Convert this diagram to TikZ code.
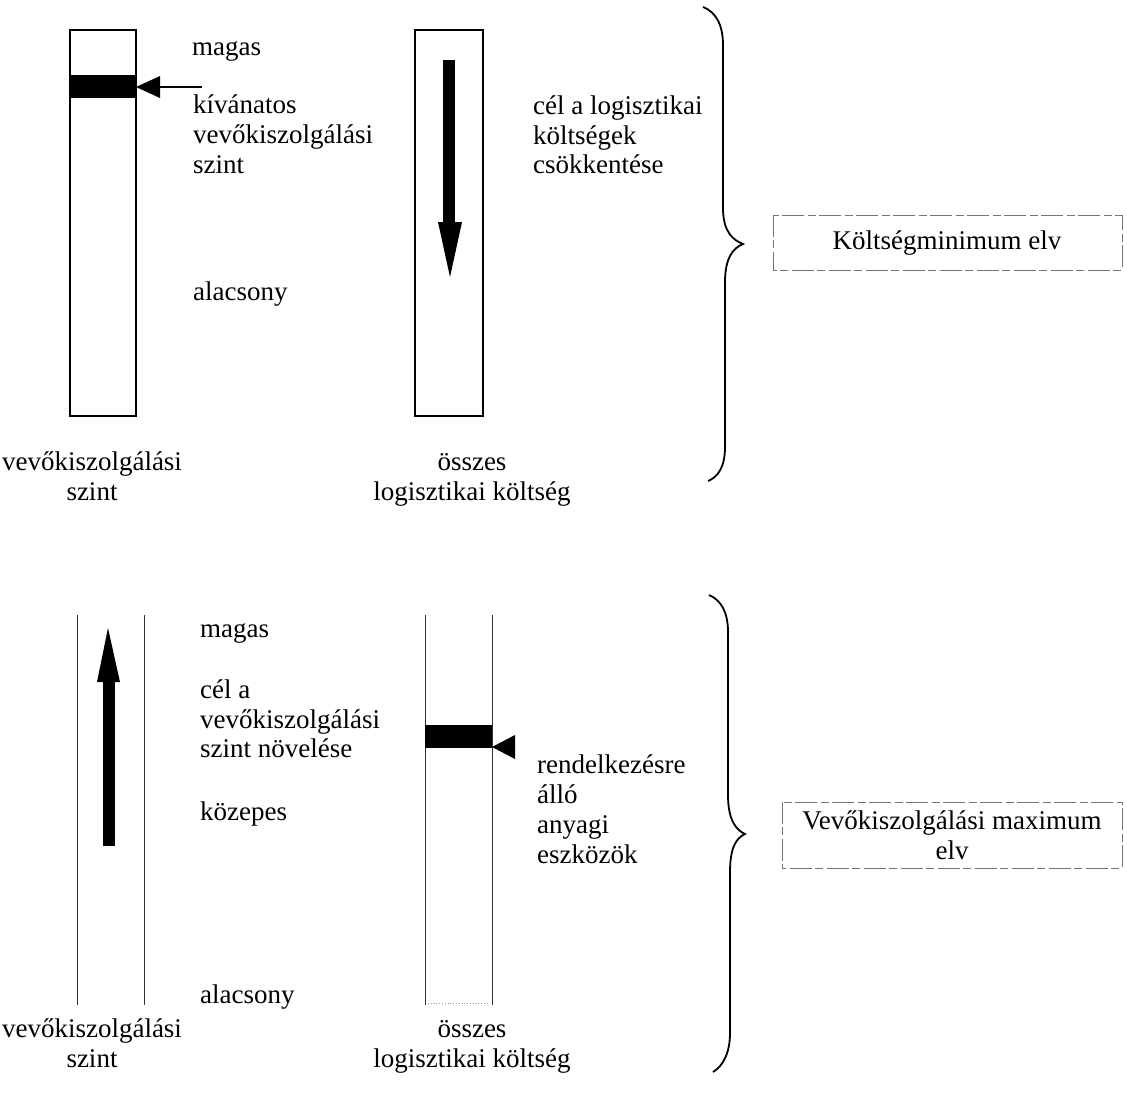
\documentclass[tikz,border=0pt]{standalone}
\usepackage{fontspec}
\setmainfont{Liberation Serif}
\begin{document}
\begin{tikzpicture}[x=1pt,y=-1pt,
  lbl/.style={anchor=base west,inner sep=0pt,font=\fontsize{27}{30}\selectfont},
  clbl/.style={anchor=base,inner sep=0pt,font=\fontsize{27}{30}\selectfont},
  col/.style={draw=black,line width=1.8pt},
  thincol/.style={draw=black!80,line width=1pt},
  band/.style={fill=black},
  brace/.style={draw=black,line width=1.8pt},
  dbox/.style={draw=black!55,line width=0.9pt,dash pattern=on 22pt off 3pt on 8pt off 4pt},
  btxt/.style={inner sep=0pt,font=\fontsize{27}{30}\selectfont,align=center}]
\useasboundingbox (0,0) rectangle (1127,1098);

% ---------- top section ----------
\draw[col] (70,30) rectangle (136,416);
\fill[band] (70,75) rectangle (136,98);
\coordinate (tA) at (202,87);
\coordinate (tB) at (160,87);
\draw[line width=1.6pt] (tA) -- (tB);
\fill (160,76) -- (136,87) -- (160,98) -- cycle;

\draw[col] (415,30) rectangle (483,416);
\fill (443,60) rectangle (455,222);
\fill (438,222) -- (462,222) -- (450,277) -- cycle;

\node[lbl] (t1) at (192,55) {magas};
\node[lbl] (t2) at (193,113) {kívánatos};
\node[lbl] (t3) at (193,143) {vevőkiszolgálási};
\node[lbl] (t4) at (193,173) {szint};
\node[lbl] (t5) at (193,300) {alacsony};
\node[lbl] (t6) at (533,114) {cél a logisztikai};
\node[lbl] (t7) at (533,144) {költségek};
\node[lbl] (t8) at (533,173) {csökkentése};
\node[clbl] (t9) at (92,470) {vevőkiszolgálási};
\node[clbl] (t10) at (92,500) {szint};
\node[clbl] (t11) at (472,470) {összes};
\node[clbl] (t12) at (472,500) {logisztikai költség};

\draw[brace] (703,7) .. controls (716,12) and (723,25) .. (723,45)
  -- (723,208) .. controls (723,232) and (733,240) .. (743,244)
  .. controls (733,248) and (725,258) .. (725,282)
  -- (725,447) .. controls (725,467) and (718,477) .. (708,481);

\draw[dbox] (773,215) rectangle (1122,270);
\node[btxt] (k1) at (947,243) {Költségminimum elv};

% ---------- bottom section ----------
\draw[thincol] (77,615) -- (77,1005);
\draw[thincol] (144,615) -- (144,1005);
\fill (103,682) rectangle (115,846);
\fill (97,682) -- (120,682) -- (108,628) -- cycle;

\draw[thincol] (425,615) -- (425,1005);
\draw[thincol] (492,615) -- (492,1005);
\draw[black!40,line width=0.8pt,dotted] (428,1003) -- (489,1003);
\fill[band] (425,725) rectangle (492,748);
\fill (515,735) -- (492,747) -- (515,759) -- cycle;

\node[lbl] (b1) at (200,637) {magas};
\node[lbl] (b2) at (200,698) {cél a};
\node[lbl] (b3) at (200,728) {vevőkiszolgálási};
\node[lbl] (b4) at (200,757) {szint növelése};
\node[lbl] (b5) at (200,820) {közepes};
\node[lbl] (b6) at (200,1003) {alacsony};
\node[lbl] (b7) at (537,773) {rendelkezésre};
\node[lbl] (b8) at (537,803) {álló};
\node[lbl] (b9) at (537,833) {anyagi};
\node[lbl] (b10) at (537,863) {eszközök};
\node[clbl] (b11) at (92,1037) {vevőkiszolgálási};
\node[clbl] (b12) at (92,1067) {szint};
\node[clbl] (b13) at (472,1037) {összes};
\node[clbl] (b14) at (472,1067) {logisztikai költség};

\draw[brace] (709,595) .. controls (721,600) and (728,612) .. (728,632)
  -- (728,795) .. controls (728,820) and (736,830) .. (745,834)
  .. controls (736,838) and (730,848) .. (730,872)
  -- (730,1033) .. controls (730,1053) and (723,1066) .. (713,1072);

\draw[dbox] (782,802) rectangle (1122,868);
\node[btxt] (v1) at (952,835) {Vevőkiszolgálási maximum\\elv};
\end{tikzpicture}
\end{document}
